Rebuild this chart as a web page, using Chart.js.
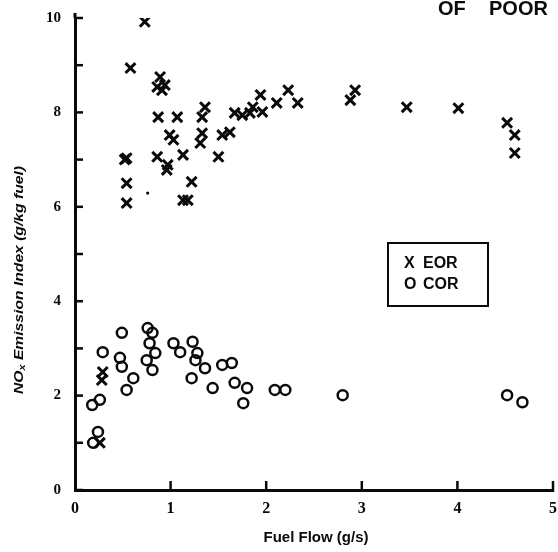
<!DOCTYPE html>
<html>
<head>
<meta charset="utf-8">
<script src="https://cdn.jsdelivr.net/npm/chart.js@4.4.1/dist/chart.umd.min.js"></script>
<style>
    html, body { margin: 0; padding: 0; background: #fff; }
    #wrap { position: relative; width: 558px; height: 552px; }
</style>
</head>
<body>
<div id="wrap"><canvas id="nox" width="558" height="552"></canvas></div>
<script>
// EOR runs (X marks): fuel flow g/s, NOx index g/kg
const eorFlow = [0.73, 0.58, 0.89, 0.86, 0.91, 0.94, 0.87, 1.07, 0.99, 1.03, 1.36, 1.33, 1.33, 1.31,
    0.54, 0.52, 0.86, 0.97, 0.96, 1.13, 0.54, 0.54, 1.22, 1.13, 1.18, 1.50, 1.54, 1.62, 1.67, 1.75,
    1.83, 1.86, 1.94, 1.96, 2.11, 2.23, 2.33, 2.88, 2.93, 3.47, 4.01, 4.52, 4.60, 4.60,
    0.29, 0.28, 0.26];
const eorIndex = [9.92, 8.94, 8.75, 8.54, 8.47, 8.58, 7.90, 7.90, 7.52, 7.42, 8.11, 7.90, 7.56, 7.35,
    7.03, 7.00, 7.06, 6.89, 6.78, 7.10, 6.50, 6.08, 6.53, 6.14, 6.14, 7.06, 7.52, 7.58, 7.99, 7.94,
    7.99, 8.11, 8.37, 8.01, 8.20, 8.47, 8.20, 8.26, 8.47, 8.11, 8.09, 7.78, 7.52, 7.14,
    2.50, 2.33, 1.00];

// COR runs (O marks)
const corFlow = [0.49, 0.29, 0.47, 0.49, 0.61, 0.54, 0.18, 0.26, 0.24, 0.19, 0.76, 0.81, 0.78, 0.84,
    0.75, 0.81, 1.03, 1.10, 1.23, 1.28, 1.26, 1.36, 1.22, 1.44, 1.54, 1.64, 1.67, 1.80, 1.76,
    2.09, 2.20, 2.80, 4.52, 4.68];
const corIndex = [3.33, 2.92, 2.80, 2.61, 2.37, 2.12, 1.80, 1.91, 1.23, 1.00, 3.43, 3.33, 3.11, 2.90,
    2.75, 2.54, 3.11, 2.92, 3.14, 2.90, 2.75, 2.58, 2.37, 2.16, 2.65, 2.69, 2.27, 2.16, 1.84,
    2.12, 2.12, 2.01, 2.01, 1.86];

// lone unlabelled dot among the EOR points
const dotFlow = [0.76];
const dotIndex = [6.29];

const xTicks = [0, 1, 2, 3, 4, 5];
const yTicks = [0, 1, 2, 3, 4, 5, 6, 7, 8, 9, 10];
const legendRows = [['X', 'EOR'], ['O', 'COR']];

const ink = '#0a0a0a';
const pairs = (xs, ys) => xs.map((x, i) => ({ x, y: ys[i] }));

// inward tick marks, axis titles, legend box, header stamp
const decorations = {
    id: 'decorations',
    afterDraw(chart) {
        const { ctx, chartArea, scales } = chart;
        const { left, bottom } = chartArea;
        ctx.save();
        ctx.strokeStyle = ink;
        ctx.fillStyle = ink;
        ctx.lineWidth = 2.5;
        yTicks.forEach((v) => {
            const py = scales.y.getPixelForValue(v);
            ctx.beginPath();
            ctx.moveTo(left, py);
            ctx.lineTo(left + 8, py);
            ctx.stroke();
        });
        xTicks.slice(1).forEach((v) => {
            const px = scales.x.getPixelForValue(v);
            ctx.beginPath();
            ctx.moveTo(px, bottom + 2);
            ctx.lineTo(px, bottom - 9);
            ctx.stroke();
        });
        // y axis runs a little past the top tick
        ctx.lineWidth = 3;
        ctx.beginPath();
        ctx.moveTo(left, scales.y.getPixelForValue(10));
        ctx.lineTo(left, scales.y.getPixelForValue(10) - 5);
        ctx.stroke();

        // y title with subscript x
        ctx.save();
        ctx.translate(19, 280);
        ctx.rotate(-Math.PI / 2);
        const mainFont = 'italic bold 13px "Liberation Sans", Arial, sans-serif';
        const subFont = 'italic bold 9px "Liberation Sans", Arial, sans-serif';
        const rest = ' Emission Index (g/kg fuel)';
        ctx.font = mainFont;
        const wNo = ctx.measureText('NO').width;
        const wRest = ctx.measureText(rest).width;
        ctx.font = subFont;
        const wX = ctx.measureText('x').width;
        const total = wNo + wX + wRest;
        const sx = 228 / total;
        ctx.scale(sx, 1);
        let cx = -total / 2;
        ctx.textBaseline = 'middle';
        ctx.textAlign = 'left';
        ctx.font = mainFont;
        ctx.fillText('NO', cx, 0);
        cx += wNo;
        ctx.font = subFont;
        ctx.fillText('x', cx, 4);
        cx += wX;
        ctx.font = mainFont;
        ctx.fillText(rest, cx, 0);
        ctx.restore();

        // x title
        ctx.font = 'bold 15px "Liberation Sans", Arial, sans-serif';
        ctx.textAlign = 'center';
        ctx.textBaseline = 'middle';
        ctx.fillText('Fuel Flow (g/s)', 316, 538);

        // legend box
        ctx.lineWidth = 2;
        ctx.strokeRect(388, 243, 100, 63);
        ctx.font = 'bold 16px "Liberation Sans", Arial, sans-serif';
        ctx.textAlign = 'left';
        legendRows.forEach(([mark, name], i) => {
            const ly = 264 + i * 21;
            ctx.fillText(mark, 404, ly);
            ctx.fillText(name, 423, ly);
        });

        // header stamp, cut off at the right edge
        ctx.font = 'bold 20px "Liberation Sans", Arial, sans-serif';
        ctx.textBaseline = 'alphabetic';
        ctx.fillText('OF', 438, 15);
        ctx.fillText('POOR', 489, 15);
        ctx.restore();
    },
};

new Chart(document.getElementById('nox'), {
    type: 'scatter',
    data: {
        datasets: [
            {
                label: 'EOR',
                data: pairs(eorFlow, eorIndex),
                pointStyle: 'crossRot',
                pointRadius: 7,
                borderWidth: 3,
                borderColor: ink,
            },
            {
                label: 'COR',
                data: pairs(corFlow, corIndex),
                pointStyle: 'circle',
                pointRadius: 5,
                borderWidth: 2.5,
                borderColor: ink,
                backgroundColor: 'rgba(255,255,255,0)',
            },
            {
                label: 'dot',
                data: pairs(dotFlow, dotIndex),
                pointStyle: 'circle',
                pointRadius: 1.6,
                borderWidth: 0,
                backgroundColor: ink,
            },
        ],
    },
    options: {
        responsive: false,
        animation: false,
        layout: { autoPadding: false, padding: { top: 18, right: 5, left: 0, bottom: 0 } },
        plugins: { legend: { display: false }, tooltip: { enabled: false } },
        scales: {
            x: {
                type: 'linear',
                min: 0,
                max: 5,
                afterFit: (s) => {
                    s.height = 62;
                    s.paddingLeft = 0;
                    s.paddingRight = 0;
                },
                afterBuildTicks: (s) => { s.ticks = xTicks.map((v) => ({ value: v })); },
                ticks: {
                    color: ink,
                    padding: 1,
                    font: { family: 'Liberation Serif', size: 16, weight: 'bold' },
                },
                grid: { display: false },
                border: { display: true, color: ink, width: 3 },
            },
            y: {
                min: 0,
                max: 10,
                afterFit: (s) => { s.width = 75; },
                afterBuildTicks: (s) => { s.ticks = yTicks.map((v) => ({ value: v })); },
                ticks: {
                    color: ink,
                    padding: 6,
                    callback: (v) => (v % 2 === 0 ? v : ''),
                    font: { family: 'Liberation Serif', size: 15, weight: 'bold' },
                },
                grid: { display: false },
                border: { display: true, color: ink, width: 3 },
            },
        },
    },
    plugins: [decorations],
});
</script>
</body>
</html>
